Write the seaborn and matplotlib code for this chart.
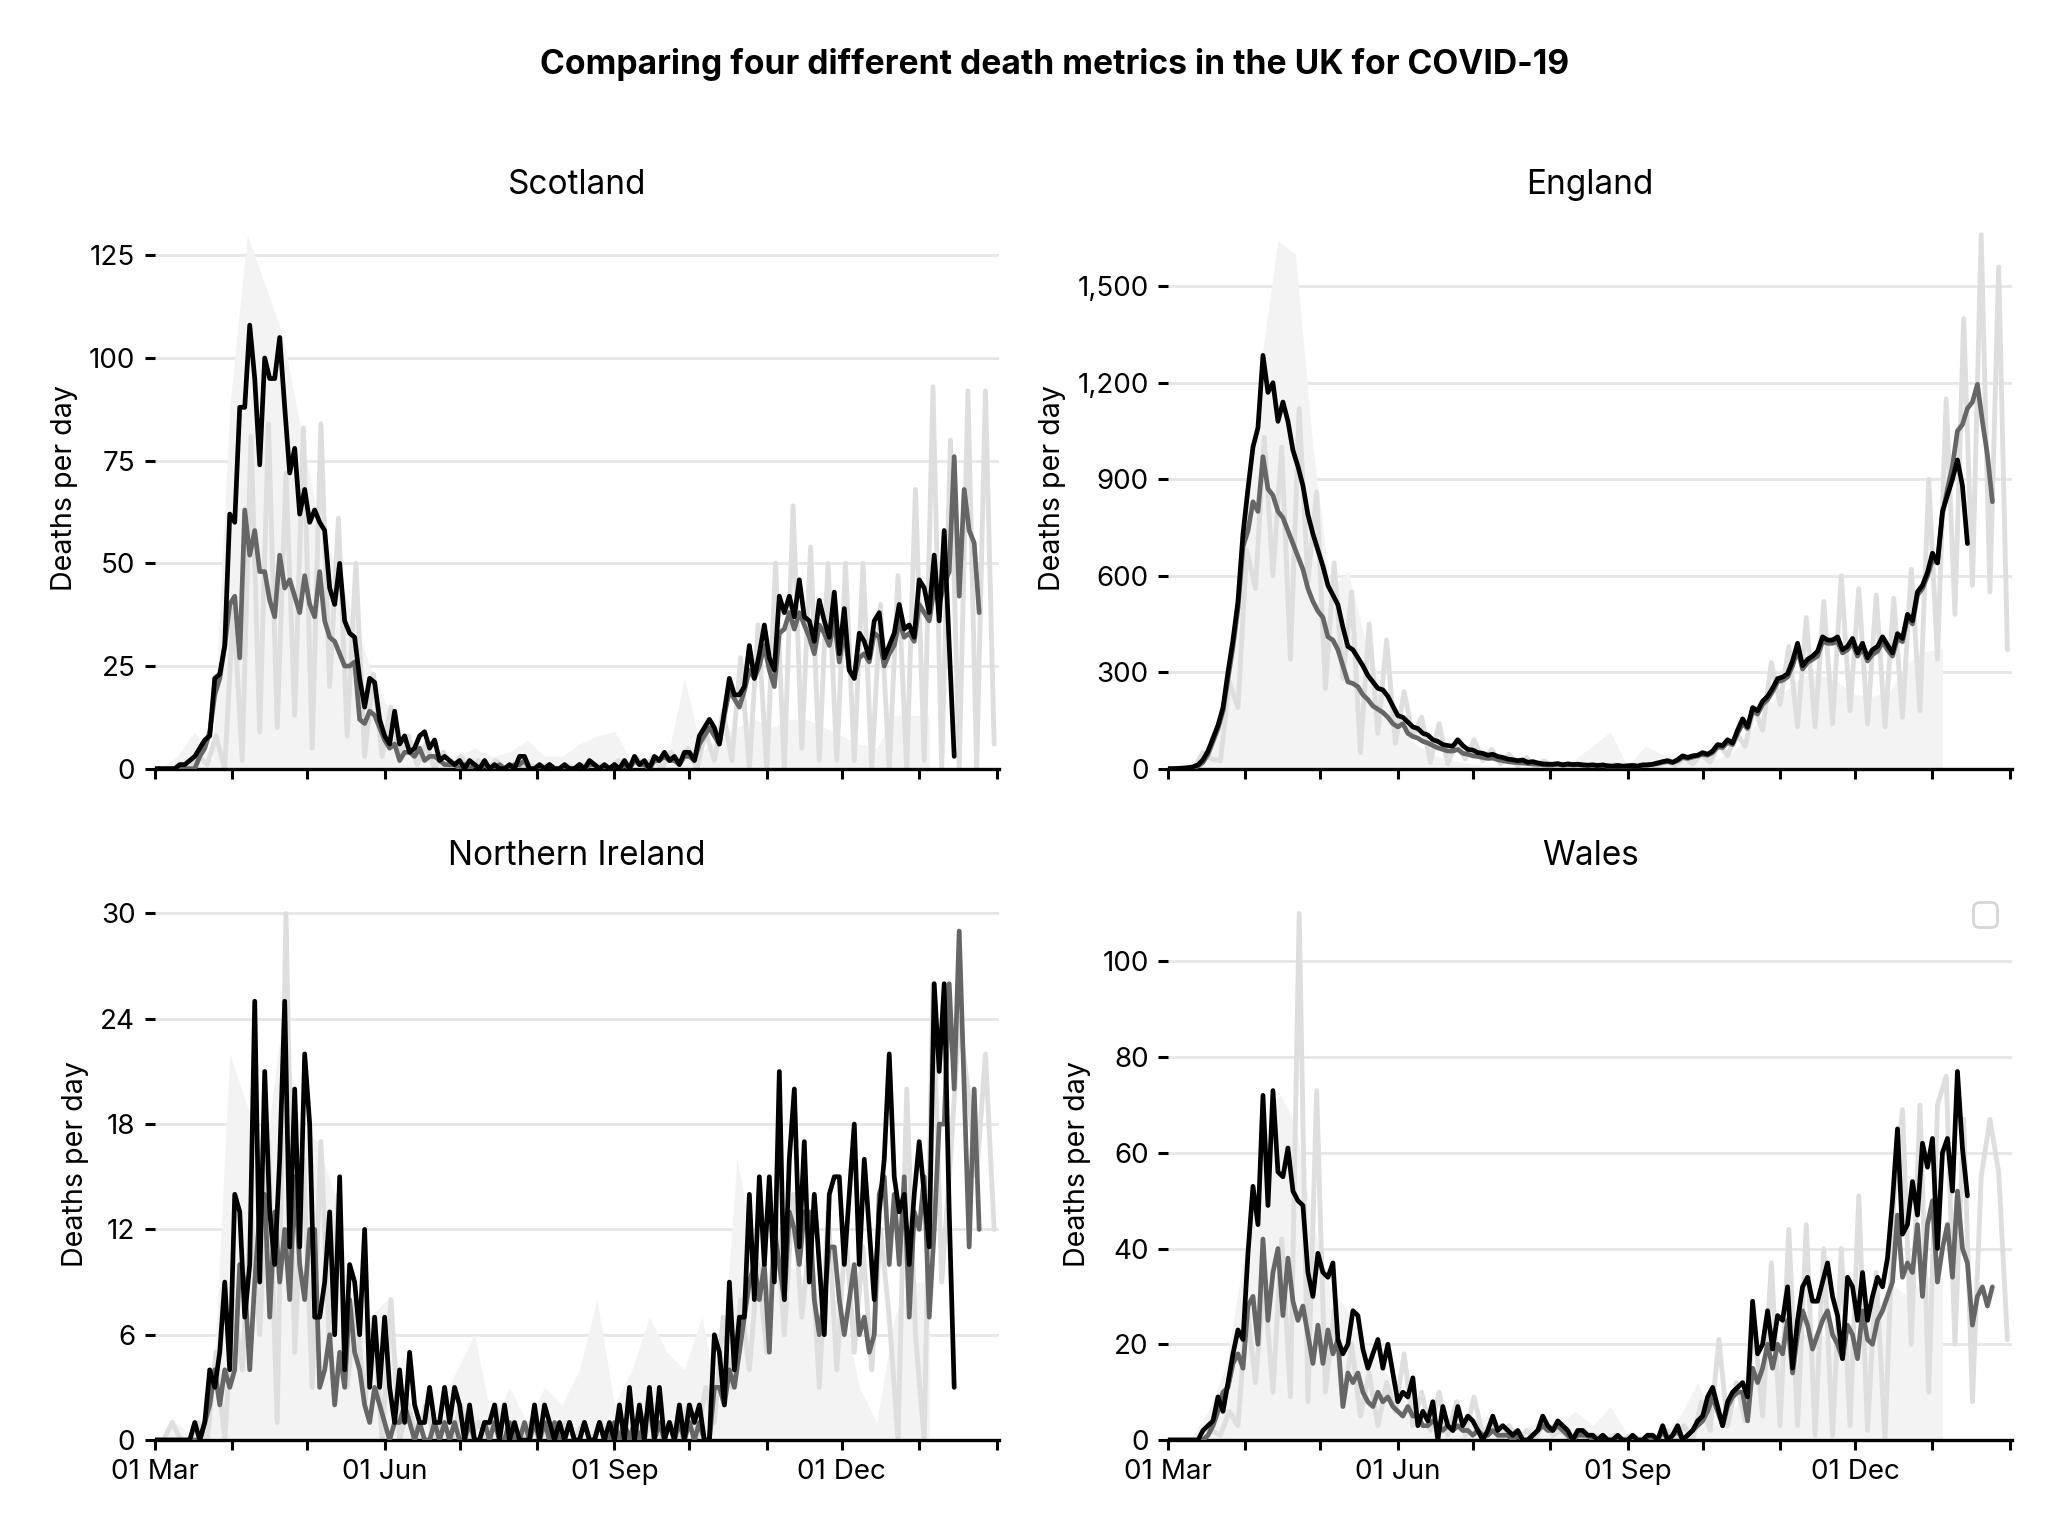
import numpy as np
import pandas as pd
import matplotlib.pyplot as plt
import matplotlib.dates as mdates
from matplotlib.ticker import MultipleLocator, StrMethodFormatter
import seaborn as sns

# 图表风格
sns.set_theme(style="ticks")
plt.rcParams['font.family'] = ['Inter', 'DejaVu Sans']
plt.rcParams['text.color'] = 'black'
plt.rcParams['axes.labelcolor'] = 'black'
plt.rcParams['xtick.color'] = 'black'
plt.rcParams['ytick.color'] = 'black'

START = pd.Timestamp('2020-03-01')
END = pd.Timestamp('2021-02-02')

# 数据 =====================================================================
# fill: weekly from 03 Mar, light: every 3.5 days, dark/black: every 2 days
scot_fill = [0, 3, 9, 2, 88, 130, 118, 106, 84, 62, 50, 38, 25, 15, 8, 5, 4, 3, 5, 3,
             4, 7, 3, 3, 6, 8, 9, 2, 1, 2, 22, 4, 8, 10, 12, 10, 12, 12, 10, 8,
             6, 5, 13, 13, 13]
scot_light = [0, 0, 0, 1, 0, 3, 1, 8, 0, 40, 2, 81, 9, 84, 10, 72, 13, 83, 5, 84,
              20, 61, 8, 50, 3, 23, 3, 15, 3, 8, 1, 6, 0, 4, 0, 3, 0, 2, 0, 2,
              0, 1, 0, 1, 0, 1, 0, 1, 0, 1, 0, 1, 0, 2, 0, 3, 0, 3, 0, 4,
              1, 5, 0, 9, 2, 14, 2, 27, 0, 35, 0, 50, 0, 64, 5, 54, 2, 50, 2, 50,
              2, 50, 0, 40, 0, 47, 0, 68, 2, 93, 0, 80, 0, 92, 0, 92, 6]
scot_dark = [0, 0, 0, 0, 0, 0, 0, 0, 0, 3, 5, 9, 18, 22, 30, 40, 42, 27, 63,
             52, 58, 48, 48, 41, 37, 52, 44, 46, 42, 38, 47, 40, 37, 48, 36, 32, 31, 28, 25,
             25, 26, 12, 11, 14, 13, 10, 7, 5, 6, 2, 4, 4, 3, 5, 2, 3, 3, 2, 1,
             1, 1, 0, 1, 0, 1, 0, 1, 0, 0, 1, 0, 0, 1, 1, 2, 0, 0, 0,
             0, 1, 0, 0, 0, 0, 0, 1, 0, 1, 1, 0, 0, 0, 1, 0, 1, 0, 2, 1,
             1, 0, 2, 2, 3, 2, 2, 1, 3, 3, 2, 6, 8, 10, 8, 6, 13, 19, 17, 15,
             19, 24, 22, 25, 30, 24, 20, 33, 34, 38, 34, 38, 35, 32, 28, 35, 33, 30, 36, 26,
             34, 24, 22, 27, 28, 26, 33, 32, 25, 28, 30, 36, 32, 33, 31, 40, 38, 36, 44, 40,
             45, 48, 76, 42, 68, 58, 55, 38]
scot_black = [0, 0, 0, 0, 0, 1, 1, 2, 3, 5, 7, 8, 22, 23, 30, 62, 60, 88, 88, 108,
              95, 74, 100, 95, 95, 105, 88, 72, 78, 62, 68, 60, 63, 60, 58, 44, 40, 50, 36, 33,
              32, 22, 15, 22, 21, 12, 8, 6, 14, 6, 8, 4, 5, 8, 9, 5, 7, 2, 3, 2,
              1, 2, 0, 2, 1, 0, 2, 0, 1, 0, 0, 1, 0, 3, 3, 0, 0, 1, 0, 1,
              0, 0, 1, 0, 0, 1, 0, 2, 1, 0, 1, 0, 1, 0, 2, 0, 3, 1, 2, 0,
              3, 2, 4, 2, 3, 1, 4, 4, 2, 8, 10, 12, 10, 6, 14, 22, 18, 18, 20, 30,
              22, 28, 35, 27, 24, 42, 38, 42, 37, 46, 37, 36, 31, 41, 36, 32, 43, 28, 39, 24,
              22, 33, 31, 27, 36, 38, 27, 30, 33, 40, 34, 35, 32, 46, 44, 38, 52, 36, 58, 30,
              3]

eng_fill = [0, 0, 50, 250, 700, 1250, 1640, 1600, 1000, 560, 613, 400, 240, 130, 70, 40, 25, 15, 10, 5,
            10, 8, 12, 30, 70, 115, 5, 70, 45, 40, 40, 30, 50, 110, 200, 240, 290, 290, 270, 230,
            225, 240, 330, 365, 375]
eng_light = [0, 0, 0, 2, 50, 30, 25, 270, 190, 680, 560, 1030, 600, 1000, 340, 1120, 580, 860, 250, 640,
             280, 550, 50, 450, 110, 400, 80, 240, 100, 160, 20, 140, 15, 90, 30, 90, 25, 60, 15, 45,
             10, 35, 5, 25, 5, 15, 5, 15, 5, 12, 3, 12, 3, 12, 4, 15, 8, 25, 10, 35,
             15, 45, 20, 75, 40, 110, 70, 190, 120, 330, 200, 380, 130, 470, 130, 520, 140, 600, 180, 560,
             140, 540, 130, 530, 160, 620, 180, 900, 340, 1150, 480, 1400, 570, 1660, 550, 1560, 370]
eng_dark = [0, 0, 0, 1, 2, 4, 8, 20, 45, 85, 125, 180, 280, 380, 500, 690, 740, 830, 800, 970,
            870, 850, 800, 780, 740, 700, 660, 620, 560, 520, 490, 470, 410, 400, 370, 320, 270, 265, 255, 230,
            215, 195, 185, 175, 160, 140, 130, 140, 110, 100, 95, 85, 80, 72, 65, 60, 55, 55, 60, 48,
            45, 40, 38, 35, 32, 33, 28, 25, 22, 20, 19, 18, 16, 15, 14, 12, 11, 12, 14, 11,
            13, 12, 12, 11, 10, 11, 9, 10, 8, 7, 9, 7, 8, 9, 8, 10, 11, 13, 16, 20,
            22, 19, 25, 35, 32, 36, 40, 45, 42, 50, 68, 66, 82, 75, 110, 140, 125, 180, 170, 200,
            215, 240, 270, 275, 285, 320, 370, 310, 330, 340, 350, 395, 390, 390, 395, 360, 370, 390, 350, 375,
            335, 355, 365, 395, 370, 350, 405, 395, 470, 450, 540, 560, 600, 650, 640, 790, 870, 940, 1050, 1070,
            1120, 1140, 1195, 1080, 975, 830]
eng_black = [0, 0, 1, 2, 3, 6, 12, 28, 55, 95, 135, 190, 300, 400, 520, 730, 870, 1000, 1060, 1285,
             1170, 1200, 1080, 1140, 1080, 990, 940, 880, 790, 730, 680, 630, 570, 540, 510, 440, 380, 370, 345, 320,
             290, 270, 250, 245, 225, 195, 165, 160, 145, 130, 125, 110, 105, 90, 85, 75, 72, 70, 90, 72,
             60, 58, 50, 48, 42, 45, 38, 35, 30, 28, 25, 27, 20, 22, 18, 15, 14, 14, 16, 12,
             15, 13, 14, 12, 11, 12, 10, 12, 9, 8, 10, 8, 9, 10, 8, 12, 12, 14, 18, 22,
             25, 20, 28, 40, 35, 40, 42, 50, 45, 55, 75, 72, 90, 80, 120, 155, 130, 190, 180, 210,
             225, 250, 280, 285, 295, 335, 390, 320, 340, 350, 365, 410, 400, 400, 410, 370, 380, 405, 360, 390,
             345, 370, 380, 410, 385, 360, 420, 405, 480, 460, 550, 570, 610, 670, 640, 800, 850, 900, 960, 880,
             700]

ni_fill = [0, 1, 0, 2, 22, 19, 16, 24, 18, 17, 14, 8, 7, 8, 2, 1, 2, 4, 6, 1,
           3, 1, 3, 2, 4, 8, 2, 4, 7, 5, 4, 7, 2, 16, 11, 9, 10, 9, 8, 8,
           3, 1, 7, 9, 9]
ni_light = [0, 0, 1, 0, 0, 1, 0, 5, 0, 8, 4, 13, 6, 17, 1, 30, 5, 16, 3, 17,
            5, 14, 3, 8, 2, 7, 0, 8, 0, 2, 0, 2, 0, 1, 0, 2, 0, 1, 0, 2,
            0, 1, 0, 1, 0, 1, 0, 1, 0, 1, 0, 1, 0, 1, 0, 1, 0, 2, 0, 1,
            0, 2, 0, 3, 1, 7, 3, 8, 4, 10, 5, 13, 6, 14, 7, 12, 3, 13, 4, 12,
            5, 11, 4, 12, 7, 0, 20, 6, 0, 26, 9, 16, 24, 20, 15, 22, 12]
ni_dark = [0, 0, 0, 0, 0, 0, 0, 0, 0, 0, 1, 2, 4, 2, 4, 3, 4, 10, 9, 4,
           9, 13, 14, 7, 13, 9, 12, 8, 15, 10, 8, 12, 12, 3, 4, 6, 2, 5, 3, 8,
           5, 4, 2, 1, 3, 2, 1, 0, 1, 1, 2, 1, 0, 1, 0, 0, 1, 0, 1, 0,
           1, 0, 0, 1, 0, 0, 1, 0, 1, 0, 0, 1, 0, 0, 1, 0, 1, 0, 1, 0,
           1, 0, 0, 1, 0, 0, 1, 0, 0, 1, 0, 0, 1, 0, 1, 0, 1, 0, 1, 2,
           0, 1, 0, 1, 0, 1, 0, 1, 0, 1, 0, 0, 3, 3, 2, 4, 3, 5, 7, 9,
           10, 8, 10, 5, 12, 10, 8, 13, 12, 10, 13, 13, 8, 6, 8, 11, 11, 8, 6, 8,
           10, 6, 7, 5, 6, 14, 15, 10, 14, 10, 15, 7, 13, 12, 15, 7, 12, 18, 18, 26,
           20, 29, 20, 11, 20, 12]
ni_black = [0, 0, 0, 0, 0, 0, 0, 0, 1, 0, 1, 4, 3, 5, 9, 4, 14, 13, 7, 10,
            25, 9, 21, 13, 10, 16, 25, 11, 20, 11, 22, 18, 7, 7, 9, 13, 6, 15, 4, 10,
            9, 6, 12, 3, 7, 3, 7, 3, 1, 4, 1, 5, 2, 1, 1, 3, 1, 1, 3, 1,
            3, 2, 0, 2, 0, 0, 1, 1, 2, 0, 2, 0, 1, 0, 0, 0, 2, 0, 2, 1,
            0, 1, 0, 1, 0, 0, 1, 0, 0, 1, 0, 1, 0, 2, 0, 3, 0, 2, 0, 3,
            0, 3, 0, 1, 0, 2, 0, 2, 1, 2, 0, 0, 6, 5, 2, 9, 4, 7, 7, 14,
            8, 15, 10, 15, 9, 21, 8, 16, 20, 11, 17, 9, 14, 10, 6, 14, 15, 15, 10, 14,
            18, 10, 16, 12, 8, 13, 16, 22, 15, 13, 14, 10, 14, 17, 14, 11, 26, 21, 26, 13,
            3]

wal_fill = [0, 0, 6, 15, 37, 55, 73, 66, 45, 32, 27, 20, 15, 10, 3, 4, 5, 4, 5, 3,
            2, 4, 3, 6, 3, 7, 1, 1, 1, 5, 12, 3, 6, 12, 16, 20, 22, 22, 20, 22,
            25, 33, 30, 34, 34]
wal_light = [0, 0, 0, 0, 0, 2, 1, 6, 3, 28, 12, 33, 10, 42, 9, 110, 8, 73, 10, 27,
             7, 20, 5, 14, 3, 12, 6, 18, 3, 10, 2, 10, 1, 8, 1, 9, 1, 4, 0, 3,
             0, 2, 0, 4, 1, 2, 0, 2, 0, 1, 0, 1, 0, 1, 0, 1, 0, 2, 0, 3,
             0, 8, 2, 21, 3, 12, 4, 25, 5, 37, 3, 44, 3, 45, 1, 40, 1, 40, 3, 51,
             2, 35, 0, 50, 69, 20, 70, 10, 70, 76, 20, 67, 8, 55, 67, 56, 21]
wal_dark = [0, 0, 0, 0, 0, 0, 0, 0, 1, 3, 6, 10, 11, 16, 18, 15, 28, 30, 20, 42,
            25, 35, 40, 26, 38, 29, 25, 28, 22, 16, 24, 16, 23, 18, 21, 7, 14, 12, 14, 10,
            8, 7, 10, 8, 9, 7, 6, 5, 7, 5, 5, 3, 3, 4, 3, 2, 3, 2, 3, 2,
            2, 1, 2, 1, 1, 2, 1, 1, 1, 0, 1, 0, 0, 1, 2, 3, 2, 2, 3, 2,
            1, 0, 1, 1, 1, 0, 0, 1, 0, 0, 0, 0, 0, 0, 0, 0, 1, 0, 0, 2,
            0, 1, 2, 0, 1, 2, 3, 4, 6, 9, 6, 3, 7, 9, 10, 10, 4, 15, 12, 15,
            20, 15, 20, 18, 25, 14, 22, 27, 24, 19, 22, 25, 27, 22, 20, 17, 24, 22, 17, 27,
            21, 20, 25, 27, 30, 33, 47, 34, 37, 35, 45, 30, 45, 50, 33, 40, 45, 34, 52, 40,
            37, 24, 30, 32, 28, 32]
wal_black = [0, 0, 0, 0, 0, 0, 0, 2, 3, 4, 9, 6, 12, 18, 23, 21, 39, 53, 45, 72,
             49, 73, 56, 55, 61, 52, 50, 49, 35, 30, 39, 35, 34, 37, 21, 18, 20, 27, 26, 19,
             15, 18, 21, 15, 20, 14, 8, 10, 9, 13, 3, 6, 4, 8, 0, 7, 3, 2, 7, 3,
             5, 4, 2, 0, 2, 5, 2, 3, 2, 1, 2, 0, 0, 1, 2, 5, 3, 2, 4, 3,
             2, 0, 2, 2, 1, 1, 0, 1, 0, 0, 1, 0, 0, 1, 0, 0, 1, 1, 0, 3,
             0, 1, 3, 0, 1, 2, 4, 5, 9, 11, 7, 3, 8, 10, 11, 12, 9, 29, 18, 20,
             27, 19, 26, 25, 32, 15, 25, 32, 34, 29, 29, 33, 37, 30, 26, 17, 34, 32, 25, 35,
             25, 30, 34, 32, 38, 50, 65, 43, 45, 54, 47, 62, 57, 63, 40, 60, 63, 52, 77, 61,
             51]

nations = ['Scotland', 'England', 'Northern Ireland', 'Wales']
fills = [scot_fill, eng_fill, ni_fill, wal_fill]
lights = [scot_light, eng_light, ni_light, wal_light]
darks = [scot_dark, eng_dark, ni_dark, wal_dark]
blacks = [scot_black, eng_black, ni_black, wal_black]
y_steps = [25, 300, 6, 20]
title_pads = [5, 5, 8, 8]


def weekly(vals):
    return pd.date_range(START + pd.Timedelta(days=2), periods=len(vals), freq='7D')


def half_week(vals):
    return pd.date_range(START, periods=len(vals), freq='84h')


def two_day(vals):
    return pd.date_range(START, periods=len(vals), freq='2D')


# 绘图 =====================================================================
fig, axes = plt.subplots(2, 2, figsize=(10.32, 7.69), dpi=200, sharex=True,
                         gridspec_kw={'height_ratios': [1.014, 1]})
fig.subplots_adjust(left=0.075, right=0.975, top=0.8647, bottom=0.0637,
                    wspace=0.2, hspace=0.2127)

for ax, name, f, l, d, b, step, pad in zip(axes.flat, nations, fills, lights, darks,
                                           blacks, y_steps, title_pads):
    ax.fill_between(weekly(f), f, 0, color='#f3f3f3', lw=0, zorder=1)
    sns.lineplot(x=half_week(l), y=l, ax=ax, color='#dedede', lw=1.75, zorder=2)
    sns.lineplot(x=two_day(d), y=d, ax=ax, color='#666666', lw=1.7, zorder=3)
    sns.lineplot(x=two_day(b), y=b, ax=ax, color='black', lw=1.7, zorder=4)

    ax.set_ylim(bottom=0)
    ax.set_xlim(START, END)
    ax.yaxis.set_major_locator(MultipleLocator(step))
    if step >= 300:
        ax.yaxis.set_major_formatter(StrMethodFormatter('{x:,.0f}'))
    ax.yaxis.grid(True, color='#e6e6e6', lw=1.0)
    ax.set_axisbelow(True)

    sns.despine(ax=ax, left=True)
    ax.spines['bottom'].set_linewidth(1.2)
    ax.spines['bottom'].set_color('black')

    ax.set_title(name, fontsize=12, pad=pad)
    ax.set_ylabel('Deaths per day', fontsize=10.3)
    ax.set_xlabel('')
    ax.tick_params(axis='both', which='both', length=3.5, width=1.1,
                   color='black', labelsize=10)

axes[1, 0].xaxis.set_major_locator(mdates.MonthLocator(bymonth=[3, 6, 9, 12]))
axes[1, 0].xaxis.set_minor_locator(mdates.MonthLocator())
axes[1, 0].xaxis.set_major_formatter(mdates.DateFormatter('%d %b'))

# empty legend box, as in the original
axes[1, 1].legend(loc='upper right')

fig.suptitle('Comparing four different death metrics in the UK for COVID-19',
             fontsize=12.1, fontweight='bold', x=0.511, y=0.958, va='center')

plt.savefig('out.png', dpi=200)
